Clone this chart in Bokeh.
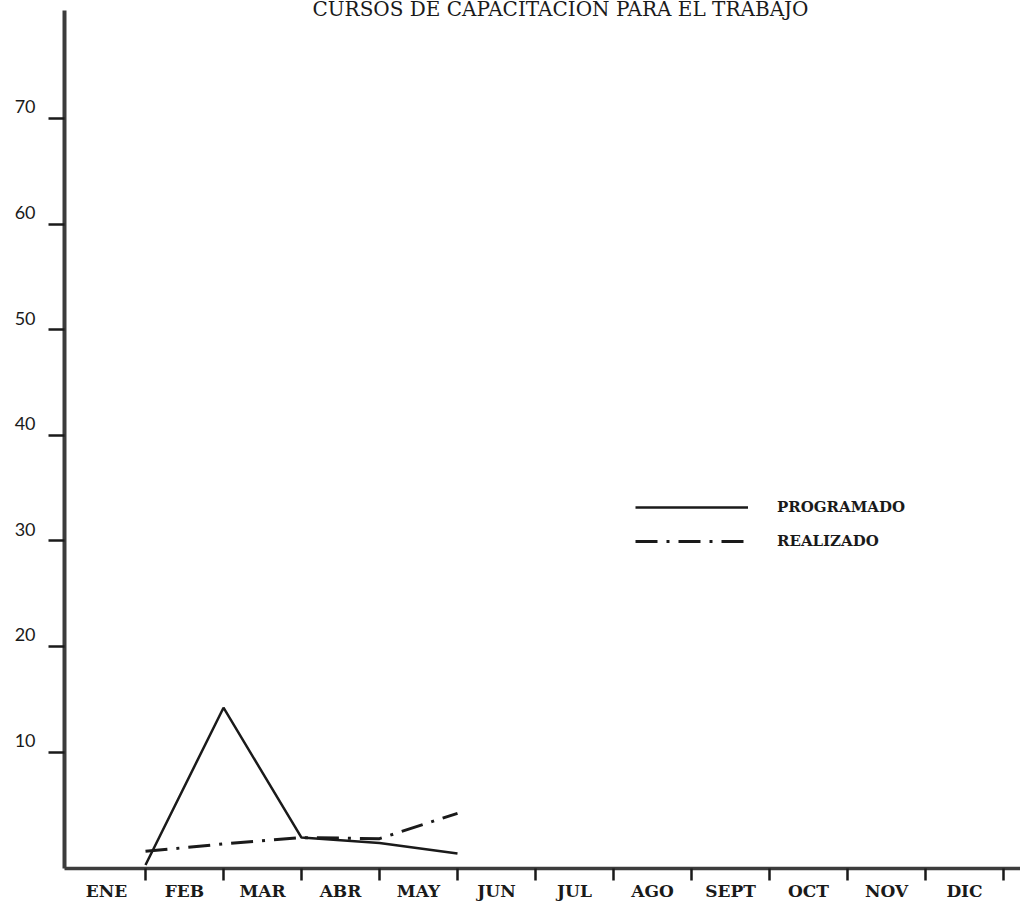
from bokeh.plotting import figure
from bokeh.models import Range1d, FixedTicker, Legend, LegendItem, Label
from bokeh.embed import file_html
from bokeh.resources import INLINE

# ---- data ----
months = ["ENE", "FEB", "MAR", "ABR", "MAY", "JUN", "JUL", "AGO", "SEPT", "OCT", "NOV", "DIC"]
programado_months = ["ENE", "FEB", "MAR", "ABR", "MAY"]
programado = [-0.7, 14.2, 1.9, 1.4, 0.4]
realizado_months = ["ENE", "FEB", "MAR", "ABR", "MAY"]
realizado = [0.6, 1.3, 1.9, 1.8, 4.2]
y_ticks = [10, 20, 30, 40, 50, 60, 70]
series_names = ["PROGRAMADO", "REALIZADO"]
title_text = "CURSOS DE CAPACITACION PARA EL TRABAJO"

x_prog = [months.index(m) for m in programado_months]
x_real = [months.index(m) for m in realizado_months]

INK = "#1a1a1a"
AXIS = "#3c3c3c"
TYPE_FONT = "DejaVu Serif"

# plot extents (data units) and axis positions
X_LO, X_HI = -1.859, 11.218
Y_LO, Y_HI = -4.15, 81.17
Y_AXIS_AT = -1.038      # where the vertical axis stands
X_AXIS_AT = -1.03       # where the horizontal axis stands

p = figure(width=1020, height=901,
           x_range=Range1d(X_LO, X_HI), y_range=Range1d(Y_LO, Y_HI),
           output_backend="svg", toolbar_location=None,
           min_border_left=0, min_border_right=0, min_border_top=0, min_border_bottom=0,
           background_fill_color="white", border_fill_color="white",
           outline_line_color=None)
p.grid.visible = False

# x axis: tick marks at month ends, labels centred in each month
xa = p.xaxis[0]
xa.fixed_location = X_AXIS_AT
xa.bounds = (Y_AXIS_AT, X_HI)
xa.ticker = FixedTicker(ticks=[i - 0.5 for i in range(len(months))],
                        minor_ticks=list(range(len(months))))
xa.major_label_overrides = {i - 0.5: m for i, m in enumerate(months)}
xa.major_tick_out = 0
xa.major_tick_in = 0
xa.major_tick_line_color = None
xa.minor_tick_out = 12
xa.minor_tick_in = 0
xa.minor_tick_line_width = 2.5
xa.minor_tick_line_color = INK
xa.axis_line_width = 3.5
xa.axis_line_color = AXIS
xa.major_label_text_font = TYPE_FONT
xa.major_label_text_font_style = "bold"
xa.major_label_text_font_size = "17px"
xa.major_label_text_color = INK
xa.major_label_standoff = 0

# y axis: tick marks at values, labels sit a little above each mark
ya = p.yaxis[0]
ya.fixed_location = Y_AXIS_AT
ya.bounds = (X_AXIS_AT, 80.22)
ya.ticker = FixedTicker(ticks=[v + 1.1 for v in y_ticks], minor_ticks=y_ticks)
ya.major_label_overrides = {v + 1.1: str(v) for v in y_ticks}
ya.major_tick_out = 0
ya.major_tick_in = 0
ya.major_tick_line_color = None
ya.minor_tick_out = 16
ya.minor_tick_in = 0
ya.minor_tick_line_width = 2.5
ya.minor_tick_line_color = INK
ya.axis_line_width = 4
ya.axis_line_color = AXIS
ya.major_label_text_font = "Lato"
ya.major_label_text_font_size = "18px"
ya.major_label_text_color = INK
ya.major_label_standoff = 13

r1 = p.line(x_prog, programado, line_color=INK, line_width=2.5)
r2 = p.line(x_real, realizado, line_color=INK, line_width=3, line_dash="22 9 3 9")

legend = Legend(items=[LegendItem(label=series_names[0], renderers=[r1]),
                       LegendItem(label=series_names[1], renderers=[r2])],
                location=(635, 350), glyph_width=113, glyph_height=20,
                label_height=20, spacing=14, padding=0, margin=0,
                label_standoff=29, border_line_color=None,
                background_fill_alpha=0,
                label_text_font=TYPE_FONT, label_text_font_style="bold",
                label_text_font_size="15px", label_text_color=INK)
p.add_layout(legend)

title = Label(x=5.32, y=80.41, text=title_text, text_align="center",
              text_baseline="alphabetic", text_font=TYPE_FONT,
              text_font_size="20px", text_color=INK)
p.add_layout(title)

open("out.html", "w").write(file_html(p, INLINE))
